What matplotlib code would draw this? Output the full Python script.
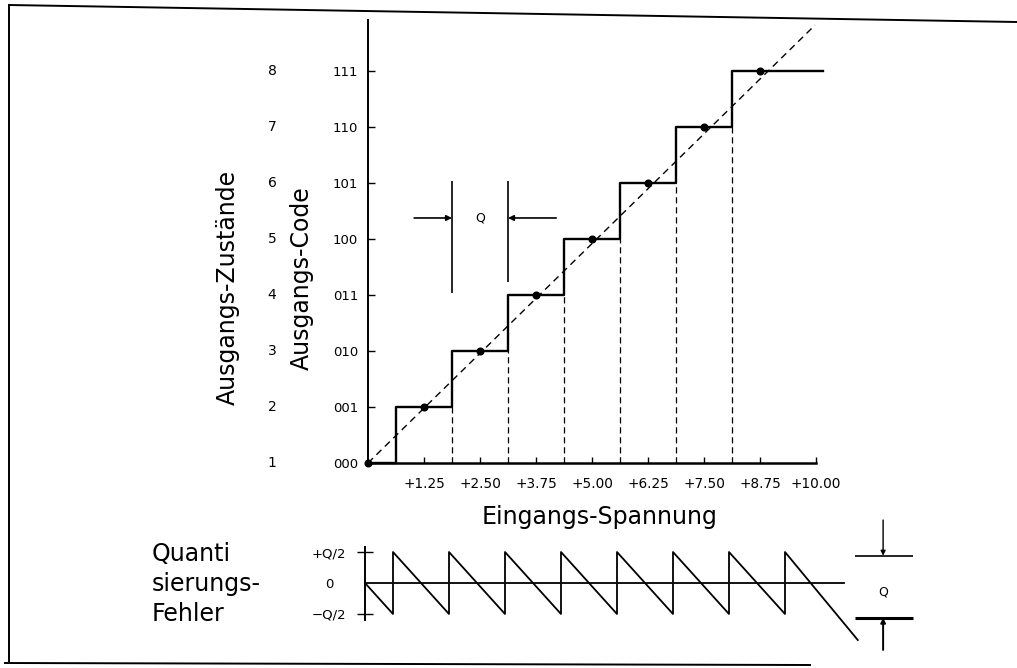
import matplotlib
matplotlib.use("Agg")
import matplotlib.pyplot as plt
from matplotlib.lines import Line2D

plt.rcParams['font.family'] = ['DejaVu Sans']

# 3-bit quantizer, input range 0 ... +10 V
code_labels = ["000", "001", "010", "011", "100", "101", "110", "111"]
state_labels = ["1", "2", "3", "4", "5", "6", "7", "8"]
volt_ticks = [1.25, 2.50, 3.75, 5.00, 6.25, 7.50, 8.75, 10.00]
volt_labels = ["+1.25", "+2.50", "+3.75", "+5.00", "+6.25", "+7.50", "+8.75", "+10.00"]

# staircase transfer function
step_x = [0, 0.625, 0.625, 1.875, 1.875, 3.125, 3.125, 4.375, 4.375,
          5.625, 5.625, 6.875, 6.875, 8.125, 8.125, 10.15]
step_y = [0, 0, 1, 1, 2, 2, 3, 3, 4, 4, 5, 5, 6, 6, 7, 7]

# code centres
center_x = [0, 1.25, 2.50, 3.75, 5.00, 6.25, 7.50, 8.75]
center_y = [0, 1, 2, 3, 4, 5, 6, 7]

# ideal (unquantized) characteristic
ideal_x = [0, 9.98]
ideal_y = [0, 7.82]

# dashed drop lines at the decision thresholds
drop_x = [1.875, 3.125, 4.375, 5.625, 6.875, 8.125]
drop_top = [1, 2, 3, 4, 5, 6]

# quantum Q dimension marker
q_marker_x = [1.875, 3.125]
q_marker_bottom = [3.04, 3.23]
q_marker_top = [5.04, 5.04]
q_arrow_y = 4.375
q_arrow_from = [1.03, 4.20]

# quantization error (sawtooth)
err_x = [0, 0.625, 0.625, 1.875, 1.875, 3.125, 3.125, 4.375, 4.375,
         5.625, 5.625, 6.875, 6.875, 8.125, 8.125, 9.375, 9.375, 11.0]
err_y = [0, -0.625, 0.625, -0.625, 0.625, -0.625, 0.625, -0.625, 0.625,
         -0.625, 0.625, -0.625, 0.625, -0.625, 0.625, -0.625, 0.625, -1.15]
zero_x = [0, 10.7]
err_ticks = [0.625, 0, -0.625]
err_labels = ["+Q/2", "0", "\u2212Q/2"]

# Q band beside the error plot
band_x = [10.94, 12.23]
band_y = [0.55, -0.70]

W, H = 1017, 668
fig = plt.figure(figsize=(W / 100, H / 100), dpi=100)
fig.patch.set_facecolor('white')

# ---------------- transfer characteristic ----------------
ax = fig.add_axes([368 / W, 205 / H, 448 / W, 443 / H])
ax.set_xlim(0, 10)
ax.set_ylim(0, 7.91)
ax.patch.set_alpha(0)
for s in ('top', 'right'):
    ax.spines[s].set_visible(False)
ax.spines['left'].set_linewidth(1.4)
ax.spines['bottom'].set_linewidth(1.8)

ax.set_xticks(volt_ticks, volt_labels)
ax.set_yticks(center_y, code_labels)
ax.tick_params(axis='x', direction='in', length=4.5, width=1.0, pad=10,
               labelsize=9.8)
ax.tick_params(axis='y', direction='in', length=5, width=1.0, pad=7,
               labelsize=9.5)

for i, s in enumerate(state_labels):
    ax.text(-0.214, i, s, transform=ax.get_yaxis_transform(),
            ha='center', va='center', fontsize=10)

ax.vlines(drop_x, 0, drop_top, colors='k', lw=0.9, linestyles=(0, (5, 3)))
ax.plot(ideal_x, ideal_y, color='k', lw=1.0, ls=(0, (5, 3.5)), clip_on=False)
ax.plot(step_x, step_y, color='k', lw=1.7, clip_on=False)
ax.plot(center_x, center_y, 'o', color='k', ms=4.8, clip_on=False)

ax.vlines(q_marker_x, q_marker_bottom, q_marker_top, colors='k', lw=1.2)
for x0, x1 in zip(q_arrow_from, q_marker_x):
    ax.annotate('', xy=(x1, q_arrow_y), xytext=(x0, q_arrow_y),
                arrowprops=dict(arrowstyle='-|>', color='k', lw=1.2,
                                mutation_scale=8, shrinkA=0, shrinkB=0))
ax.text(sum(q_marker_x) / 2, q_arrow_y, 'Q', ha='center', va='center',
        fontsize=9)

# ---------------- quantization error ----------------
ax2 = fig.add_axes([365 / W, 48 / H, 448 / W, 73 / H])
ax2.set_xlim(0, 10)
ax2.set_ylim(-0.746, 0.726)
ax2.patch.set_alpha(0)
for s in ('top', 'right', 'bottom'):
    ax2.spines[s].set_visible(False)
ax2.spines['left'].set_linewidth(1.4)
ax2.set_xticks([])
ax2.set_yticks(err_ticks, err_labels)
ax2.tick_params(axis='y', direction='inout', length=12, width=1.0, pad=20,
                labelsize=9.5)
for lab in ax2.get_yticklabels():
    lab.set_horizontalalignment('center')
ax2.yaxis.get_major_ticks()[1].tick1line.set_visible(False)

ax2.plot(zero_x, [0, 0], color='k', lw=1.3, clip_on=False)
ax2.plot(err_x, err_y, color='k', lw=1.3, clip_on=False)

ax2.hlines(band_y, band_x[0], band_x[1], colors='k', lw=[1.2, 2.2],
           clip_on=False)
arrow_x = (band_x[0] + band_x[1]) / 2 - 0.02
ax2.annotate('', xy=(arrow_x, band_y[0]), xytext=(arrow_x, 1.27),
             annotation_clip=False,
             arrowprops=dict(arrowstyle='-|>', color='k', lw=1.0,
                             mutation_scale=7, shrinkA=0, shrinkB=0))
ax2.annotate('', xy=(arrow_x, band_y[1]), xytext=(arrow_x, -1.35),
             annotation_clip=False,
             arrowprops=dict(arrowstyle='-|>', color='k', lw=1.4,
                             mutation_scale=7, shrinkA=0, shrinkB=0))
ax2.text(arrow_x, (band_y[0] + band_y[1]) / 2 - 0.1, 'Q', ha='center',
         va='center', fontsize=9)

# ---------------- titles ----------------
big = 17
fig.text(228 / W, 1 - 287 / H, 'Ausgangs-Zustände', rotation=90,
         ha='center', va='center', fontsize=big)
fig.text(302 / W, 1 - 278 / H, 'Ausgangs-Code', rotation=90,
         ha='center', va='center', fontsize=big)
fig.text(600 / W, 1 - 524 / H, 'Eingangs-Spannung', ha='center',
         va='baseline', fontsize=big)
for txt, yb in (('Quanti', 561), ('sierungs-', 591), ('Fehler', 621)):
    fig.text(152 / W, 1 - yb / H, txt, ha='left', va='baseline', fontsize=big)

# ---------------- frame ----------------
frame = [([9, 9], [5, 663]), ([9, 1017], [5, 22]), ([5, 810], [663, 665])]
for xs, ys in frame:
    fig.add_artist(Line2D([x / W for x in xs], [1 - y / H for y in ys],
                          transform=fig.transFigure, color='k', lw=1.4))

fig.savefig('out.png', dpi=100)
